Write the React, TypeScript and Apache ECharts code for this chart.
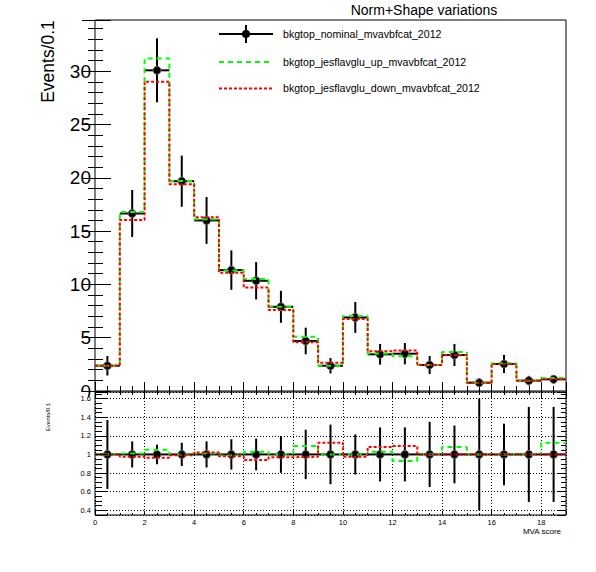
import React, { useEffect, useRef } from "react";
import * as echarts from "echarts";

// ---- data ----
const binCenters = [0.5, 1.5, 2.5, 3.5, 4.5, 5.5, 6.5, 7.5, 8.5, 9.5, 10.5, 11.5, 12.5, 13.5, 14.5, 15.5, 16.5, 17.5, 18.5];
const nominal = [2.37, 16.65, 30.08, 19.68, 16.0, 11.34, 10.34, 7.9, 4.69, 2.37, 6.9, 3.44, 3.5, 2.44, 3.37, 0.78, 2.53, 0.97, 1.1];
const nominalErr = [0.92, 2.2, 3.0, 2.4, 2.2, 1.85, 1.75, 1.5, 1.25, 0.72, 1.45, 0.97, 1.0, 0.85, 1.03, 0.4, 0.85, 0.45, 0.38];
const upValues = [2.37, 16.8, 31.2, 19.7, 16.1, 11.3, 10.5, 7.9, 5.09, 2.37, 7.03, 3.52, 3.25, 2.44, 3.65, 0.78, 2.6, 0.97, 1.22];
const downValues = [2.37, 16.05, 29.0, 19.4, 16.3, 11.1, 9.7, 7.6, 4.57, 2.66, 6.75, 3.72, 3.8, 2.44, 3.37, 0.78, 2.53, 0.97, 1.1];
const ratioUp = [1.0, 1.01, 1.05, 1.0, 1.01, 0.99, 1.03, 1.0, 1.09, 1.0, 1.0, 1.03, 0.93, 1.0, 1.08, 1.0, 1.0, 1.0, 1.125];
const ratioDown = [1.0, 0.975, 0.965, 0.99, 1.02, 0.98, 0.94, 0.97, 0.975, 1.125, 0.975, 1.08, 1.09, 1.0, 1.0, 1.0, 1.0, 1.0, 1.0];
const ratioErr = [0.37, 0.14, 0.105, 0.125, 0.14, 0.163, 0.17, 0.197, 0.265, 0.32, 0.215, 0.29, 0.29, 0.35, 0.31, 0.6, 0.33, 0.51, 0.51];
const binWidth = 1;

const nameNominal = "bkgtop_nominal_mvavbfcat_2012";
const nameUp = "bkgtop_jesflavglu_up_mvavbfcat_2012";
const nameDown = "bkgtop_jesflavglu_down_mvavbfcat_2012";
const titleText = "Norm+Shape variations";
const yTitle = "Events/0.1";
const xTitle = "MVA score";

const FONT = "'Liberation Sans', Arial, Helvetica, sans-serif";
const GREEN = "#00ff00";
const RED = "#ff0000";

function stepData(vals: number[]) {
  const out: number[][] = [];
  vals.forEach((v, i) => {
    out.push([binCenters[i] - binWidth / 2, v]);
    out.push([binCenters[i] + binWidth / 2, v]);
  });
  return out;
}

function errRender(params: any, api: any) {
  const x = api.value(0);
  const y = api.value(1);
  const e = api.value(2);
  const c = api.coord([x, y]);
  const l = api.coord([x - binWidth / 2, y]);
  const r = api.coord([x + binWidth / 2, y]);
  const t = api.coord([x, y + e]);
  const b = api.coord([x, y - e]);
  return {
    type: "group",
    children: [
      { type: "line", shape: { x1: l[0], y1: c[1], x2: r[0], y2: c[1] }, style: { stroke: "#000", lineWidth: 2 } },
      { type: "line", shape: { x1: c[0], y1: t[1], x2: c[0], y2: b[1] }, style: { stroke: "#000", lineWidth: 2 } },
      { type: "circle", shape: { cx: c[0], cy: c[1], r: 4 }, style: { fill: "#000", stroke: "#666", lineWidth: 1 } },
    ],
  };
}

const tickOnly = (gridIndex: number, position: string, min: number, max: number, interval: number, length: number, extra: any = {}) => ({
  type: "value",
  gridIndex,
  position,
  min,
  max,
  interval,
  axisLine: { show: false },
  axisTick: { show: true, inside: true, length, lineStyle: { color: "#000", width: 1 } },
  axisLabel: { show: false },
  splitLine: { show: false },
  ...extra,
});

const isMult = (v: number, step: number) => Math.abs(v / step - Math.round(v / step)) < 1e-6;

export default function App() {
  const ref = useRef<HTMLDivElement>(null);
  useEffect(() => {
    const chart = echarts.init(ref.current!, null, { renderer: "svg" });
    const topRect = { left: 95, top: 20, width: 471, height: 371 };
    const botRect = { left: 95, top: 392, width: 471, height: 123 };
    const dotted = { show: true, lineStyle: { color: "#000", width: 1, type: [1, 2] } };
    const option: any = {
      animation: false,
      backgroundColor: "#fff",
      grid: [
        { ...topRect, show: true, borderColor: "#000", borderWidth: 1, backgroundColor: "transparent" },
        { ...botRect, show: true, borderColor: "#000", borderWidth: 1, backgroundColor: "transparent" },
        { ...topRect, show: false },
        { ...botRect, show: false },
      ],
      xAxis: [
        tickOnly(0, "bottom", 0, 19, 2, 9),
        tickOnly(0, "top", 0, 19, 2, 8),
        tickOnly(2, "bottom", 0, 19, 0.5, 5),
        tickOnly(2, "top", 0, 19, 0.5, 4),
        tickOnly(1, "bottom", 0, 19, 2, 4, {
          axisLabel: {
            show: true,
            margin: 3,
            fontSize: 7.5,
            fontFamily: FONT,
            color: "#000",
            formatter: (v: number) => (isMult(v, 2) ? String(v) : ""),
          },
          splitLine: dotted,
        }),
        tickOnly(3, "bottom", 0, 19, 0.5, 2),
      ],
      yAxis: [
        tickOnly(0, "left", 0, 34.8, 5, 16, {
          axisLabel: {
            show: true,
            margin: 4,
            fontSize: 19,
            fontFamily: FONT,
            color: "#000",
            formatter: (v: number) => (isMult(v, 5) ? String(v) : ""),
          },
        }),
        tickOnly(0, "right", 0, 34.8, 5, 13),
        tickOnly(2, "left", 0, 34.8, 1, 8),
        tickOnly(2, "right", 0, 34.8, 1, 7),
        {
          type: "value",
          gridIndex: 1,
          position: "left",
          min: 0.35,
          max: 1.67,
          splitNumber: 6,
          minInterval: 0.2,
          maxInterval: 0.2,
          z: 10,
          axisLine: { show: false },
          axisTick: { show: true, inside: true, length: 13, lineStyle: { color: "#000", width: 1 } },
          axisLabel: {
            show: true,
            margin: 4,
            fontSize: 7.5,
            fontFamily: FONT,
            color: "#000",
            formatter: (v: number) => (isMult(v, 0.2) ? (Math.abs(v - 1) < 1e-6 ? "1" : v.toFixed(1)) : ""),
          },
          splitLine: dotted,
        },
        {
          type: "value",
          gridIndex: 1,
          position: "right",
          min: 0.35,
          max: 1.67,
          splitNumber: 6,
          minInterval: 0.2,
          maxInterval: 0.2,
          axisLine: { show: false },
          axisTick: { show: true, inside: true, length: 9, lineStyle: { color: "#000", width: 1 } },
          axisLabel: { show: false },
          splitLine: { show: false },
        },
        tickOnly(3, "left", 0.35, 1.67, 0.05, 7),
        tickOnly(3, "right", 0.35, 1.67, 0.05, 5),
      ],
      legend: {
        orient: "vertical",
        left: 218,
        top: 25,
        padding: 0,
        itemWidth: 54,
        itemHeight: 18,
        itemGap: 11.9,
        selectedMode: false,
        textStyle: { fontFamily: FONT, fontSize: 10.6, color: "#000", padding: [0, 0, 0, 5] },
        data: [
          { name: nameNominal, icon: "path://M0,8H54V10H0Z M26,0H28V18H26Z M23,9A4,4,0,1,1,31,9A4,4,0,1,1,23,9Z" },
          { name: nameUp, itemStyle: { opacity: 0 } },
          { name: nameDown, itemStyle: { opacity: 0 } },
        ],
      },
      series: [
        {
          type: "custom",
          name: nameNominal,
          xAxisIndex: 0,
          yAxisIndex: 0,
          color: "#000",
          clip: true,
          renderItem: errRender,
          encode: { x: 0, y: 1 },
          data: binCenters.map((c, i) => [c, nominal[i], nominalErr[i]]),
        },
        {
          type: "line",
          name: nameUp,
          xAxisIndex: 0,
          yAxisIndex: 0,
          color: GREEN,
          symbol: "none",
          lineStyle: { color: GREEN, width: 2, type: [5, 4] },
          data: stepData(upValues),
        },
        {
          type: "line",
          name: nameDown,
          xAxisIndex: 0,
          yAxisIndex: 0,
          color: RED,
          symbol: "none",
          lineStyle: { color: RED, width: 2, type: [3, 2] },
          data: stepData(downValues),
        },
        {
          type: "custom",
          name: nameNominal,
          xAxisIndex: 4,
          yAxisIndex: 4,
          color: "#000",
          clip: true,
          renderItem: errRender,
          encode: { x: 0, y: 1 },
          data: binCenters.map((c, i) => [c, nominal[i] / nominal[i], ratioErr[i]]),
        },
        {
          type: "line",
          name: nameUp,
          xAxisIndex: 4,
          yAxisIndex: 4,
          color: GREEN,
          symbol: "none",
          lineStyle: { color: GREEN, width: 2, type: [5, 4] },
          data: stepData(ratioUp),
        },
        {
          type: "line",
          name: nameDown,
          xAxisIndex: 4,
          yAxisIndex: 4,
          color: RED,
          symbol: "none",
          lineStyle: { color: RED, width: 2, type: [3, 2] },
          data: stepData(ratioDown),
        },
      ],
      graphic: [
        {
          type: "rect",
          z: 5,
          shape: { x: 62, y: 392, width: 26, height: 12 },
          style: { fill: "#fff" },
        },
        {
          type: "text",
          x: 424,
          y: 10,
          style: { text: titleText, font: `14px ${FONT}`, fill: "#000", align: "center", verticalAlign: "middle" },
        },
        {
          type: "text",
          x: 48,
          y: 61.5,
          rotation: Math.PI / 2,
          style: { text: yTitle, font: `17.5px ${FONT}`, fill: "#000", align: "center", verticalAlign: "middle" },
        },
        {
          type: "text",
          x: 48,
          y: 417,
          rotation: Math.PI / 2,
          style: { text: yTitle, font: `6px ${FONT}`, fill: "#000", align: "center", verticalAlign: "middle" },
        },
        {
          type: "text",
          x: 561,
          y: 531,
          style: { text: xTitle, font: `8px ${FONT}`, fill: "#000", align: "right", verticalAlign: "middle" },
        },
      ],
    };
    chart.setOption(option);
    return () => chart.dispose();
  }, []);
  return <div ref={ref} style={{ position: "fixed", left: 0, top: 0, width: 596, height: 572 }} />;
}
